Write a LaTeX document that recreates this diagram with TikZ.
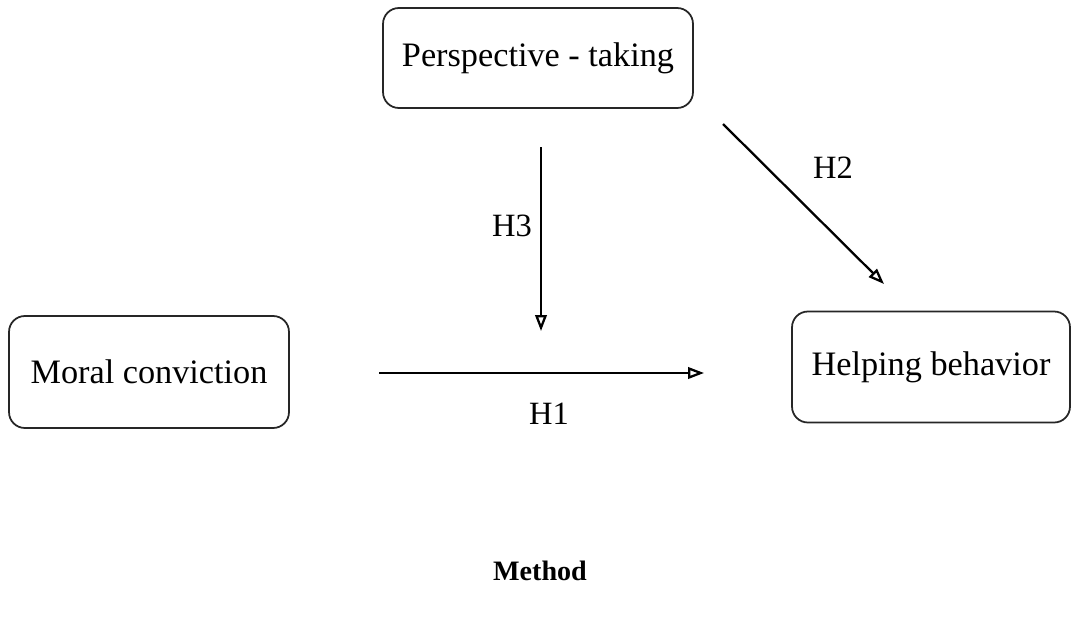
\documentclass[tikz,border=0pt]{standalone}
\usepackage{fontspec}
\setmainfont{Liberation Serif}
\usepackage{tikz}
\usetikzlibrary{arrows.meta,positioning}

\begin{document}
\begin{tikzpicture}[x=0.02cm,y=-0.02cm,>={Triangle[open,length=9pt,width=6.5pt]}]
\tikzset{var/.style={draw=black!85,rounded corners=9pt,align=center,line width=1pt,font=\fontsize{19.5}{23}\selectfont,inner sep=0pt}}
\tikzset{hyp/.style={font=\fontsize{18.5}{22}\selectfont}}
\tikzset{link/.style={->,line width=1.3pt}}
\useasboundingbox (0,0) rectangle (1072,619);
\node[var,minimum width=6.2cm,minimum height=2cm] (persp) at (538,58) {Perspective - taking};
\node[var,minimum width=5.6cm,minimum height=2.24cm] (moral) at (149,372) {Moral conviction};
\node[var,minimum width=5.56cm,minimum height=2.22cm] (help) at (931,367) {Helping behavior};
% free ends of the paths
\coordinate (h3a) at (541,147);
\coordinate (h3b) at (541,331);
\coordinate (h1a) at (379,373);
\coordinate (h1b) at (704,373);
\coordinate (h2a) at (723,124);
\coordinate (h2b) at (884,284);
\draw[link] (h3a) -- (h3b);
\draw[link] (h1a) -- (h1b);
\draw[link] (h2a) -- (h2b);
\node[hyp] (lh3) at (512,226) {H3};
\node[hyp] (lh2) at (833,168) {H2};
\node[hyp] (lh1) at (549,414) {H1};
\node[font=\fontsize{16}{19}\selectfont\bfseries] (method) at (540,571) {Method};
\end{tikzpicture}
\end{document}
